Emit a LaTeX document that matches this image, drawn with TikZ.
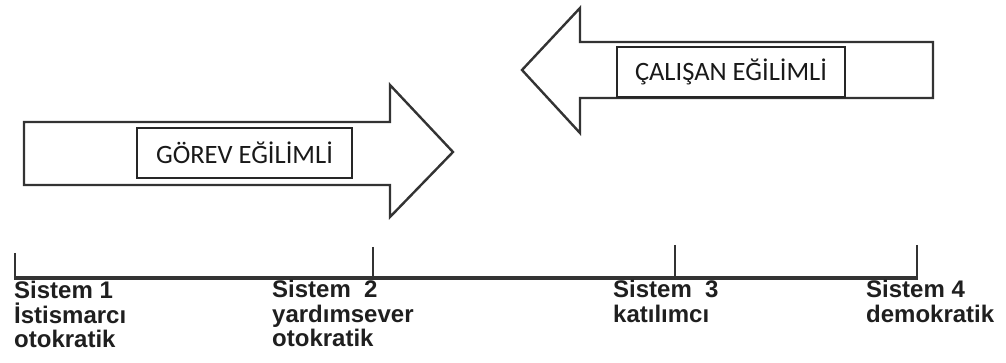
\documentclass[tikz,border=0pt]{standalone}
\usepackage{fontspec}
\setmainfont{Liberation Sans}
\newfontfamily\boxfont{Carlito}
\begin{document}
\begin{tikzpicture}[x=1pt,y=-1pt,
  arrowshape/.style={draw=black!80,line width=2.4pt,line join=miter,fill=white},
  labelbox/.style={draw=black!85,line width=1.3pt,fill=white,minimum width=#1,minimum height=50pt,inner sep=0pt,font=\boxfont\fontsize{26.5}{28}\selectfont,text=black!90},
  axis/.style={draw=black!80,line width=3pt},
  tick/.style={draw=black!80,line width=2.4pt},
  syslabel/.style={anchor=north west,inner sep=0pt,align=left,font=\bfseries\fontsize{24}{24.5}\selectfont,text=black!88}]
\useasboundingbox (0,0) rectangle (1006,363);
% right-pointing arrow
\draw[arrowshape] (24,122) -- (390,122) -- (390,85) -- (453,152) -- (390,217) -- (390,185) -- (24,185) -- cycle;
\node[labelbox=215pt] (gorev) at (244.5,153) {GÖREV EĞİLİMLİ};
% left-pointing arrow
\draw[arrowshape] (933,42) -- (580,42) -- (580,8) -- (522,70) -- (580,133) -- (580,98) -- (933,98) -- cycle;
\node[labelbox=228pt] (calisan) at (731,72) {ÇALIŞAN EĞİLİMLİ};
% timeline
\coordinate (s1) at (15,278);
\coordinate (s2) at (373,278);
\coordinate (s3) at (675,278);
\coordinate (s4) at (917,278);
\coordinate (t1) at (15,253);
\coordinate (t2) at (373,247);
\coordinate (t3) at (675,245);
\coordinate (t4) at (917,245);
\draw[axis] (s1) -- (s4);
\draw[tick] (t1) -- ([yshift=-1.5pt]s1);
\draw[tick] (t2) -- (s2);
\draw[tick] (t3) -- (s3);
\draw[tick] (t4) -- ([yshift=-1.5pt]s4);
% labels
\node[syslabel] (l1) at (14,281) {Sistem 1\\İstismarcı\\otokratik};
\node[syslabel] (l2) at (272,280) {Sistem\ \ 2\\yardımsever\\otokratik};
\node[syslabel] (l3) at (613,280) {Sistem\ \ 3\\katılımcı};
\node[syslabel] (l4) at (866,280) {Sistem 4\\demokratik};
\end{tikzpicture}
\end{document}
